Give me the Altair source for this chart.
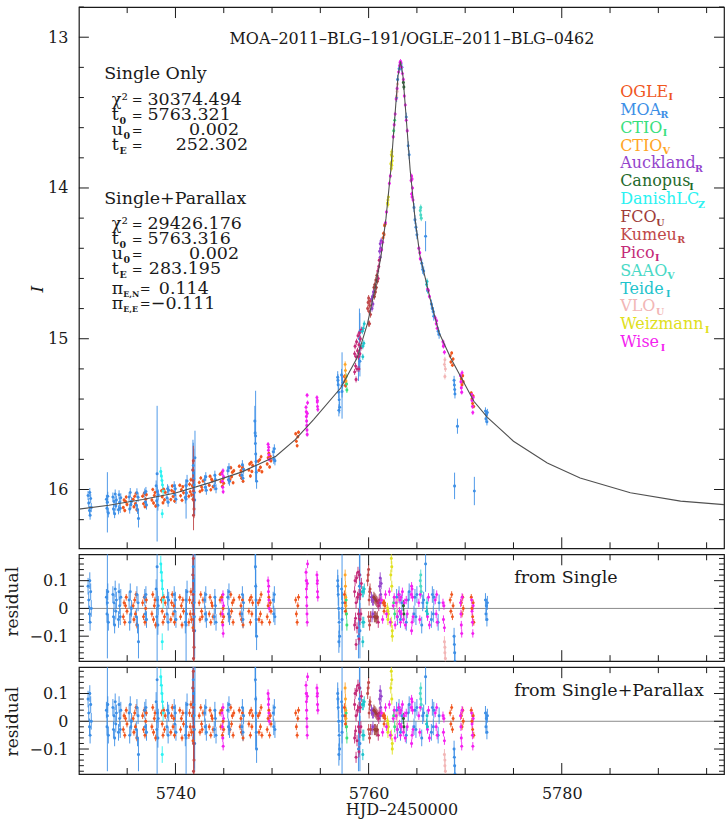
import altair as alt
import pandas as pd

FONT = "DejaVu Serif"
INK = "#1a1a1a"

SURVEYS = ["OGLE_I", "MOA_R", "CTIO_I", "CTIO_V", "Auckland_R", "Canopus_I", "DanishLC_Z",
           "FCO_U", "Kumeu_R", "Pico_I", "SAAO_V", "Teide_I", "VLO_U", "Weizmann_I", "Wise_I"]
COLORS = ["#f0561e", "#3d8fe6", "#38e07c", "#ffa526", "#9444cc", "#1f6a2c", "#2af2f2",
          "#9e3d3a", "#c0484a", "#c42a78", "#4ad9c6", "#1fc3cc", "#f2b6b6", "#e0e020", "#f41ff0"]
LEGEND_NAMES = ["OGLE", "MOA", "CTIO", "CTIO", "Auckland", "Canopus", "DanishLC",
                "FCO", "Kumeu", "Pico", "SAAO", "Teide", "VLO", "Weizmann", "Wise"]
LEGEND_SUBS = ["I", "R", "I", "V", "R", "I", "Z", "U", "R", "I", "V", "I", "U", "I", "I"]
DEFAULT_ERR = {"OGLE_I": .012, "MOA_R": .03, "Wise_I": .015}

# nightly groups on the wings: (night HJD', magnitude of that night, error, [(time offset, residual[, error]), ...])
OGLE_NIGHTS = [
    (5734.8, 16.09, .012, [(-.2, -.03), (-.12, .02), (-.05, -.05), (.03, .01), (.1, .04), (.18, -.01)]),
    (5735.8, 16.075, .012, [(-.18, .01), (-.1, -.04), (-.02, .03), (.05, -.02), (.12, .05), (.2, -.06)]),
    (5736.8, 16.064, .012, [(-.2, .02), (-.11, -.03), (-.03, .04), (.04, -.05), (.12, 0), (.19, .03)]),
    (5737.75, 16.05, .012, [(-.19, -.02), (-.1, .05), (-.02, -.04), (.06, .01), (.13, .03), (.2, -.06)]),
    (5738.75, 16.038, .012, [(-.2, .03), (-.12, -.01), (-.04, -.05), (.04, .04), (.11, -.03), (.19, .02)]),
    (5739.7, 16.027, .012, [(-.18, -.04), (-.1, .02), (-.03, .05), (.05, -.02), (.12, .01), (.2, -.05)]),
    (5740.65, 16.012, .012, [(-.2, .04), (-.12, -.03), (-.04, .01), (.03, -.06), (.11, .03), (.18, -.01)]),
    (5741.6, 15.995, .014, [(-.21, -.05), (-.14, .03), (-.07, -.02), (0, .06), (.07, -.04), (.14, .02), (.21, -.07)]),
    (5742.65, 15.973, .012, [(-.19, .02), (-.11, -.04), (-.03, .05), (.05, -.01), (.12, -.03), (.2, .03)]),
    (5743.7, 15.952, .012, [(-.2, -.02), (-.12, .04), (-.04, -.05), (.04, .02), (.11, .01), (.19, -.03)]),
    (5744.8, 15.928, .012, [(-.18, .03), (-.1, -.02), (-.02, .04), (.06, -.05), (.13, 0), (.2, -.03)]),
    (5745.85, 15.905, .012, [(-.2, -.03), (-.12, .05), (-.04, -.01), (.04, .02), (.12, -.05), (.19, .03)]),
    (5746.8, 15.885, .012, [(-.19, .04), (-.1, -.02), (-.02, .01), (.05, -.04), (.13, .03), (.2, -.06)]),
    (5747.8, 15.86, .012, [(-.2, -.01), (-.12, .03), (-.04, -.05), (.04, .04), (.11, -.02), (.19, .02)]),
    (5748.75, 15.832, .012, [(-.18, .02), (-.1, -.04), (-.02, .03), (.05, -.02), (.12, .05), (.2, -.05)]),
    (5749.7, 15.80, .012, [(-.2, -.03), (-.11, .01), (-.03, .04), (.05, -.05), (.12, .02), (.19, -.01)]),
    (5752.6, 15.66, .012, [(-.15, .03), (-.08, -.02), (0, -.05), (.07, .01), (.14, .04)]),
    (5757.55, 15.30, .015, [(-.05, .05), (0, .02), (.05, -.01)]),
    (5768.6, 15.145, .012, [(-.15, .03), (-.08, -.01), (0, .05), (.08, -.03), (.15, .01)]),
    (5769.7, 15.285, .012, [(-.1, .02), (-.03, -.02), (.04, .04), (.1, 0)]),
    (5770.75, 15.40, .012, [(-.12, .04), (-.05, 0), (.02, -.03), (.08, .02), (.14, -.05)]),
]
MOA_NIGHTS = [
    (5731.1, 16.12, .03, [(-.15, .08), (-.08, .03), (0, -.02), (.06, -.05), (.12, .06), (.18, 0), (.03, .1)]),
    (5732.95, 16.105, .03, [(-.1, .04), (-.04, -.02), (0, .02, .2), (.04, .06), (.1, -.05)]),
    (5733.7, 16.10, .03, [(-.18, .05), (-.12, -.03), (-.06, .02), (0, -.06), (.06, .07), (.12, -.01), (.18, .03)]),
    (5734.2, 16.095, .03, [(-.1, -.04), (-.04, .06), (.02, .01), (.08, -.03), (.14, .04)]),
    (5735.3, 16.08, .03, [(-.1, .03), (-.04, -.05), (.02, .06), (.08, -.02), (.14, 0)]),
    (5736.05, 16.072, .03, [(-.1, -.03), (-.04, .05), (.02, -.06), (.08, .02), (.12, -.12, .06)]),
    (5736.9, 16.063, .03, [(-.08, .04), (-.02, -.02), (.04, .05), (.1, -.04)]),
    (5738.1, 16.045, .035, [(-.1, .07), (-.04, -.03), (0, .15, .45), (.02, .03), (.08, -.06), (.12, .01)]),
    (5739.2, 16.035, .03, [(-.08, -.02), (-.02, .04), (.04, -.05), (.1, .03)]),
    (5739.95, 16.025, .03, [(-.08, .05), (-.02, -.01), (.04, .03), (.1, -.04)]),
    (5741.1, 16.003, .04, [(-.08, -.05), (-.02, .03), (0, -.06, .13), (.04, -.02), (.1, .06)]),
    (5741.9, 15.99, .06, [(-.06, .15, .15), (-.03, .1, .12), (0, .06, .2), (.03, .02, .1), (.06, -.03, .14),
                          (.09, -.08, .1), (-.09, .12, .2), (.12, .2, .18)]),
    (5743.1, 15.965, .03, [(-.08, .03), (-.02, -.02), (.04, .05), (.1, -.04)]),
    (5744.1, 15.945, .03, [(-.08, -.03), (-.02, .04), (.04, .01), (.1, -.05)]),
    (5745.5, 15.915, .03, [(-.08, .04), (-.02, -.02), (.04, .06), (.1, -.03)]),
    (5746.95, 15.885, .03, [(-.08, -.02), (-.02, .05), (.04, -.04), (.1, .02)]),
    (5748.3, 15.845, .06, [(-.08, .3, .1), (-.05, .22, .08), (-.02, .15, .08), (.01, .08, .06), (.04, .03, .06),
                           (.07, -.04, .05), (.1, -.1, .05), (0, .2, .3)]),
    (5750.2, 15.78, .03, [(-.08, .03), (-.02, -.02), (.04, .05), (.1, -.03)]),
    (5756.9, 15.355, .04, [(-.1, .1), (-.05, .05), (0, 0), (.05, -.05), (.1, -.1), (-.08, .08), (.02, -.12)]),
    (5757.25, 15.31, .04, [(-.05, .07), (0, -.04), (.05, .02), (0, 0, .22)]),
    (5768.9, 15.176, .03, [(-.05, -.10), (-.02, -.13), (.01, -.16), (.04, -.19), (0, -.8, .088)]),
    (5769.2, 15.21, .05, [(0, -.37)]),
    (5770.95, 15.42, .094, [(0, -.59)]),
    (5772.2, 15.51, .025, [(-.1, .03), (-.05, -.02), (0, .01), (.05, -.04), (.1, .02)]),
]
WISE_NIGHTS = [
    (5744.9, 15.925, .015, [(-.08, .03), (-.04, -.02), (0, -.06), (.04, -.09), (.08, .01), (.02, .05)]),
    (5749.65, 15.80, .015, [(-.06, .1), (-.02, .06), (.02, .03), (.06, 0), (0, .08)]),
    (5753.6, 15.585, .015, [(-.08, .13), (-.06, .1), (-.04, .07), (-.02, .04), (0, .01), (.02, -.02),
                            (.04, -.05), (.06, .09), (.08, .16), (.03, .21)]),
    (5754.7, 15.51, .015, [(-.05, .12), (-.02, .09), (.01, .06), (.04, .04), (0, .1)]),
    (5769.6, 15.265, .015, [(-.08, .02), (-.04, -.02), (0, -.06), (.04, -.09), (.08, .04)]),
    (5770.75, 15.40, .015, [(-.08, .03), (-.04, -.01), (0, -.05), (.04, -.09), (.08, .01)]),
]
KUMEU_NIGHTS = [
    (5741.85, 15.99, .06, [(-.05, .12), (-.02, .05), (.01, -.02), (.04, -.08), (.07, -.14), (0, .18, .1), (.02, -.18, .1)]),
]
DANISH_NIGHTS = [
    (5738.6, 16.04, .03, [(-.12, .16), (-.06, .13), (0, .1), (.06, .07), (.12, .03), (.03, -.12)]),
]
CTIOV_NIGHTS = [(5757.6, 15.29, .02, [(-.03, .12), (0, .08), (.03, .04), (.05, .01)])]
CTIOI_NIGHTS = [(5757.7, 15.28, .02, [(-.02, .03), (.02, -.02), (.05, -.06)])]

# points on the steep part of the peak: (HJD', magnitude, residual[, error])
OGLE_PEAK = [(5761.5, 14.33, .02), (5761.55, 14.30, .02), (5761.6, 14.31, -.01), (5761.65, 14.25, .02), (5761.7, 14.24, .01)]
MOA_PEAK = [
    (5758.95, 15.20, -.10, .08), (5759.05, 15.00, .08, .2), (5759.1, 14.95, .12, .12), (5759.1, 15.15, -.08, .1),
    (5762.9, 13.40, .04), (5763.0, 13.28, -.03), (5763.15, 13.21, .05), (5763.3, 13.19, -.04), (5763.45, 13.20, .02),
    (5763.9, 13.53, -.05), (5764.1, 13.72, .03), (5764.2, 13.78, .06), (5764.7, 14.13, -.02), (5764.8, 14.21, .04),
    (5764.9, 14.26, -.03), (5765.0, 14.31, .05), (5765.5, 14.50, -.06), (5765.6, 14.54, .02), (5765.7, 14.55, .03),
    (5765.9, 14.32, .16, .1), (5766.5, 14.77, -.04), (5766.6, 14.80, .05), (5766.7, 14.82, -.02), (5766.75, 14.85, .04),
    (5767.2, 14.95, -.05), (5767.3, 14.97, .02),
]
WISE_PEAK = [
    (5761.35, 14.41, .03), (5761.45, 14.36, -.04), (5761.75, 14.23, .05), (5761.85, 14.16, -.02),
    (5762.15, 13.97, .06), (5762.25, 13.92, -.05), (5762.55, 13.66, .01), (5762.65, 13.58, .04),
    (5762.75, 13.51, -.06), (5762.85, 13.41, .02), (5762.95, 13.34, -.03), (5763.1, 13.23, .05),
    (5763.2, 13.19, -.01), (5763.25, 13.17, .03), (5763.3, 13.16, -.05), (5763.35, 13.17, .04),
    (5763.4, 13.20, -.02), (5763.5, 13.24, .06), (5763.6, 13.28, -.04), (5763.7, 13.39, .02),
    (5763.8, 13.45, -.06), (5763.9, 13.55, .03), (5764.0, 13.62, -.02), (5764.4, 13.95, .05),
    (5764.45, 13.92, .08), (5764.5, 13.94, .07), (5764.5, 14.06, -.05), (5764.55, 14.00, .04),
    (5764.6, 14.08, -.03), (5764.45, 14.04, -.08), (5765.2, 14.40, .02), (5765.3, 14.43, -.04),
    (5765.35, 14.47, .05), (5766.1, 14.67, -.03), (5766.2, 14.68, .04), (5766.3, 14.72, -.06),
    (5766.9, 14.86, .03), (5767.0, 14.90, -.02), (5767.05, 14.88, .05), (5767.1, 14.93, -.05),
    (5767.7, 15.02, .02), (5767.75, 15.05, -.04), (5767.8, 15.04, .01), (5767.85, 15.09, -.07),
]
PICO_PEAK = [
    (5758.55, 15.10, .06), (5758.55, 15.22, -.06), (5758.6, 15.05, .10), (5758.65, 15.18, -.035), (5758.7, 15.12, .02),
    (5758.7, 15.27, -.13), (5758.75, 15.02, .11), (5758.8, 15.20, -.07), (5758.85, 15.08, .04), (5758.9, 14.98, .13),
    (5758.95, 15.12, -.02), (5759.0, 15.04, .05), (5759.0, 15.20, -.11), (5759.05, 14.96, .12), (5759.1, 15.10, -.04),
    (5759.15, 15.00, .05), (5759.2, 15.06, -.02), (5759.25, 14.94, .09),
    (5760.95, 14.55, .02), (5761.0, 14.60, -.05), (5761.05, 14.52, .01), (5761.1, 14.48, .03),
]
KUMEU_PEAK = [(5759.9, 14.80, .10), (5759.95, 14.76, .12), (5760.0, 14.90, -.03), (5760.0, 14.73, .14), (5760.05, 14.82, .03),
              (5760.1, 14.78, .06), (5760.1, 14.90, -.06), (5760.15, 14.75, .07), (5760.2, 14.84, -.03)]
AUCKLAND_PEAK = [(5760.3, 14.74, .04), (5760.35, 14.80, -.03), (5760.4, 14.72, .03), (5760.45, 14.77, -.02), (5760.5, 14.69, .03),
                 (5761.15, 14.42, .08), (5761.2, 14.37, .11), (5761.25, 14.40, .05), (5761.3, 14.35, .09), (5761.2, 14.46, .02)]
FCO_PEAK = [(5760.55, 14.66, .04), (5760.6, 14.72, -.03), (5760.65, 14.64, .035), (5760.7, 14.69, -.03),
            (5760.75, 14.61, .03), (5760.8, 14.66, -.035), (5760.85, 14.58, .025), (5760.9, 14.62, -.03)]
TEIDE_PEAK = [(5759.35, 14.95, .06), (5759.4, 15.05, -.05), (5759.45, 14.93, .06), (5759.5, 15.03, -.05), (5759.55, 14.90, .07),
              (5759.4, 15.12, -.12), (5766.0, 14.64, -.01), (5766.05, 14.62, .02), (5766.1, 14.68, -.02)]
WEIZMANN_PEAK = [(5761.95, 14.10, 0), (5762.0, 14.08, -.01), (5762.05, 14.06, -.02), (5762.0, 14.11, -.04), (5762.3, 13.84, .12),
                 (5762.35, 13.78, .18), (5762.35, 13.87, -.05), (5762.4, 13.85, .08), (5762.4, 13.76, .15),
                 (5762.45, 13.82, -.08), (5762.45, 13.79, -.1)]
CTIOI_PEAK = [(5762.6, 13.62, .02), (5762.7, 13.55, -.02)]
VLO_PEAK = [(5762.9, 13.39, .02), (5762.95, 13.36, -.01), (5763.0, 13.31, .03), (5767.85, 15.17, -.12),
            (5767.9, 15.14, -.14), (5767.9, 15.25, -.16), (5767.95, 15.20, -.18)]
CANOPUS_PEAK = [(5763.6, 13.30, .01), (5763.65, 13.33, -.02)]
SAAO_PEAK = [(5765.35, 14.15, .1), (5765.4, 14.18, .08), (5765.45, 14.20, .06), (5765.4, 14.13, .12)]

# model light curve
CURVE_T = [5730.0, 5733.1, 5736.6, 5740.0, 5743.5, 5746.9, 5750.4, 5752.4, 5754.3, 5757.1, 5758.8, 5759.9,
           5760.7, 5761.3, 5761.8, 5762.3, 5762.8, 5763.05, 5763.3, 5763.55, 5763.8, 5764.3, 5764.8, 5765.3,
           5766.4, 5767.3, 5768.5, 5770.9, 5772.3, 5775.0, 5778.5, 5781.9, 5787.1, 5792.3, 5796.8]
CURVE_MAG = [16.130, 16.104, 16.066, 16.023, 15.956, 15.883, 15.779, 15.669, 15.536, 15.327, 15.128, 14.895,
             14.660, 14.444, 14.200, 13.879, 13.458, 13.254, 13.160, 13.254, 13.458, 13.879, 14.200, 14.444,
             14.742, 14.960, 15.128, 15.415, 15.521, 15.680, 15.824, 15.923, 16.022, 16.077, 16.100]

# axis ticks
X_DOMAIN = [5730, 5796.8]
X_MAJOR = [5740, 5760, 5780]
X_MINOR = [5735, 5745, 5750, 5755, 5765, 5770, 5775, 5785, 5790, 5795]
MAIN_DOMAIN = [12.8, 16.39]
MAIN_MAJOR = [13, 14, 15, 16]
MAIN_MINOR = [12.8, 13.2, 13.4, 13.6, 13.8, 14.2, 14.4, 14.6, 14.8, 15.2, 15.4, 15.6, 15.8, 16.2]
RES_DOMAIN = [-0.19, 0.195]
RES_MAJOR = [-0.1, 0, 0.1]
RES_MINOR = [-0.18, -0.16, -0.14, -0.12, -0.08, -0.06, -0.04, -0.02, 0.02, 0.04, 0.06, 0.08, 0.12, 0.14, 0.16, 0.18]

TITLE = "MOA–2011–BLG–191/OGLE–2011–BLG–0462"
FIT_SINGLE = [("χ²", "", "30374.494"), ("t", "0", "5763.321"), ("u", "0", "0.002"), ("t", "E", "252.302")]
FIT_PARALLAX = [("χ²", "", "29426.176"), ("t", "0", "5763.316"), ("u", "0", "0.002"), ("t", "E", "283.195"),
                ("π", "E,N", "0.114"), ("π", "E,E", "−0.111")]

# ---------------------------------------------------------------- build table
rows = []


def add_nights(survey, nights):
    for t0, base, err, pts in nights:
        for p in pts:
            e = p[2] if len(p) > 2 else err
            rows.append(dict(survey=survey, t=round(t0 + p[0], 3), mag=round(base - p[1], 4), res=p[1], err=e))


def add_peak(survey, pts):
    for p in pts:
        e = p[3] if len(p) > 3 else DEFAULT_ERR.get(survey, .02)
        rows.append(dict(survey=survey, t=p[0], mag=p[1], res=p[2], err=e))


add_nights("OGLE_I", OGLE_NIGHTS)
add_peak("OGLE_I", OGLE_PEAK)
add_nights("MOA_R", MOA_NIGHTS)
add_peak("MOA_R", MOA_PEAK)
add_nights("CTIO_I", CTIOI_NIGHTS)
add_peak("CTIO_I", CTIOI_PEAK)
add_nights("CTIO_V", CTIOV_NIGHTS)
add_peak("Auckland_R", AUCKLAND_PEAK)
add_peak("Canopus_I", CANOPUS_PEAK)
add_nights("DanishLC_Z", DANISH_NIGHTS)
add_peak("FCO_U", FCO_PEAK)
add_nights("Kumeu_R", KUMEU_NIGHTS)
add_peak("Kumeu_R", KUMEU_PEAK)
add_peak("Pico_I", PICO_PEAK)
add_peak("SAAO_V", SAAO_PEAK)
add_peak("Teide_I", TEIDE_PEAK)
add_peak("VLO_U", VLO_PEAK)
add_peak("Weizmann_I", WEIZMANN_PEAK)
add_nights("Wise_I", WISE_NIGHTS)
add_peak("Wise_I", WISE_PEAK)

df = pd.DataFrame(rows)
df["lo"] = df["mag"] - df["err"]
df["hi"] = df["mag"] + df["err"]
df["rlo"] = df["res"] - df["err"]
df["rhi"] = df["res"] + df["err"]
curve_df = pd.DataFrame({"t": CURVE_T, "m": CURVE_MAG})

# ---------------------------------------------------------------- helpers
W = 646
H_MAIN = 542
H_RES = 107
LEFT_EXTENT = 77.5
XS = alt.Scale(domain=X_DOMAIN, nice=False, zero=False)
YM = alt.Scale(domain=MAIN_DOMAIN, reverse=True, nice=False, zero=False)
YR = alt.Scale(domain=RES_DOMAIN, nice=False, zero=False)
COLOR = alt.Color("survey:N", scale=alt.Scale(domain=SURVEYS, range=COLORS), legend=None)

CW = {'A': .722, 'C': .72, 'D': .802, 'E': .729, 'F': .693, 'G': .8, 'I': .4, 'K': .76, 'L': .68, 'M': .963,
      'O': .82, 'P': .673, 'S': .685, 'T': .71, 'V': .722, 'W': 1.103, 'a': .596, 'c': .56, 'd': .64,
      'e': .592, 'h': .644, 'i': .32, 'k': .606, 'l': .32, 'm': .948, 'n': .644, 'o': .602, 'p': .64,
      's': .513, 'u': .644, 'z': .525, 't': .402, 'π': .62}


def text_width(s, size):
    return 0.97 * sum(CW.get(c, .62) for c in s) * size


def txt(s, x, y, size, color=INK, align="left", weight="normal", style="normal"):
    return alt.Chart(pd.DataFrame({"s": [s]})).mark_text(
        align=align, baseline="alphabetic", font=FONT, fontSize=size, color=color,
        fontWeight=weight, fontStyle=style
    ).encode(x=alt.value(x), y=alt.value(y), text="s:N")


def spacer():
    # white hairline at the far left so that every panel has the same left extent
    return alt.Chart(pd.DataFrame({"a": [0]})).mark_rule(color="white", strokeWidth=1).encode(
        x=alt.value(-LEFT_EXTENT), x2=alt.value(-LEFT_EXTENT), y=alt.value(0), y2=alt.value(1))


def tick_layers(ys, h, ymaj, ymin, xenc_for, yenc_for):
    out = []
    for vals, ln in ((ymaj, 10), (ymin, 5)):
        d = pd.DataFrame({"v": vals})
        out.append(alt.Chart(d).mark_rule(color=INK, strokeWidth=1).encode(
            y=yenc_for("v"), x=alt.value(0), x2=alt.value(ln)))
        out.append(alt.Chart(d).mark_rule(color=INK, strokeWidth=1).encode(
            y=yenc_for("v"), x=alt.value(W - ln), x2=alt.value(W)))
    for vals, ln in ((X_MAJOR, 11), (X_MINOR, 6)):
        d = pd.DataFrame({"v": vals})
        out.append(alt.Chart(d).mark_rule(color=INK, strokeWidth=1).encode(
            x=xenc_for("v"), y=alt.value(0), y2=alt.value(ln)))
        out.append(alt.Chart(d).mark_rule(color=INK, strokeWidth=1).encode(
            x=xenc_for("v"), y=alt.value(h - ln), y2=alt.value(h)))
    return out


# ---------------------------------------------------------------- main panel
MAIN_YAXIS = alt.Axis(values=MAIN_MAJOR, format="d", ticks=False, tickSize=0, domain=False, grid=False,
                      labelFont=FONT, labelFontSize=16, labelColor=INK, labelPadding=11,
                      titleFont=FONT, titleFontSize=17, titleFontStyle="italic", titleFontWeight="normal",
                      titleColor=INK, titleX=-41, titleY=282, titleAngle=270, titleBaseline="middle",
                      titleAlign="center")


def main_y(field):
    return alt.Y(f"{field}:Q", scale=YM, axis=MAIN_YAXIS, title="I")


def main_x(field):
    return alt.X(f"{field}:Q", scale=XS, axis=None)


main_layers = [
    spacer(),
    alt.Chart(df).mark_rule(strokeWidth=1, opacity=0.9, clip=True).encode(
        x=main_x("t"), y=main_y("lo"), y2="hi:Q", color=COLOR),
    alt.Chart(df).mark_circle(size=9, opacity=1, clip=True).encode(
        x=main_x("t"), y=main_y("mag"), color=COLOR),
    alt.Chart(curve_df).mark_line(color="#505050", strokeWidth=1.1, clip=True).encode(
        x=main_x("t"), y=main_y("m")),
]
main_layers += tick_layers(YM, H_MAIN, MAIN_MAJOR, MAIN_MINOR, main_x, main_y)

# title and fit parameters
main_layers.append(txt(TITLE, 333.5, 36.7, 16, align="center"))
STAT = 17.5
main_layers.append(txt("Single Only", 25.3, 72.5, STAT))
main_layers.append(txt("Single+Parallax", 25.3, 197, STAT))
block1_y = [98, 113.5, 128.5, 143.5]
block2_y = [222.5, 237.5, 252.5, 267.5, 287, 302]
block1_vx = [68.7, 68.7, 110.3, 97]
block2_vx = [68.7, 68.7, 110.3, 70, 80, 72]
for fits, ys_, vxs in ((FIT_SINGLE, block1_y, block1_vx), (FIT_PARALLAX, block2_y, block2_vx)):
    for (sym, sub, val), yy, vx in zip(fits, ys_, vxs):
        sym_size = 16 if sym == "χ²" else STAT
        main_layers.append(txt(sym, 33, yy, sym_size))
        if sub:
            main_layers.append(txt(sub, 33 + text_width(sym, STAT) + 0.8, yy + 3.5,
                                   9.5 if len(sub) == 1 else 8, weight="bold"))
        eqx = 66.5 if sym == "π" else 58.5
        main_layers.append(txt("=", eqx, yy - 0.5, 13, align="center"))
        main_layers.append(txt(val, vx, yy, STAT))

# legend of observatories
LEG_SIZE = 16
for i, (name, sub, col) in enumerate(zip(LEGEND_NAMES, LEGEND_SUBS, COLORS)):
    yy = 90 + 17.9 * i
    main_layers.append(txt(name, 542, yy, LEG_SIZE, color=col))
    main_layers.append(txt(sub, 542 + text_width(name, LEG_SIZE) + 1.5, yy + 3.5, 9.5, color=col, weight="bold"))

main = alt.layer(*main_layers).properties(width=W, height=H_MAIN)


# ---------------------------------------------------------------- residual panels
def resid_panel(label, title_y, bottom):
    yaxis = alt.Axis(values=RES_MAJOR, labelExpr="datum.value == 0 ? '0' : format(datum.value, '.1f')",
                     ticks=False, tickSize=0, domain=False, grid=False, labelFont=FONT, labelFontSize=16,
                     labelColor=INK, labelPadding=11, titleFont=FONT, titleFontSize=17, titleFontWeight="normal",
                     titleColor=INK, titleX=-66, titleY=title_y, titleAngle=270, titleBaseline="middle",
                     titleAlign="center")
    if bottom:
        xaxis = alt.Axis(values=X_MAJOR, format="d", ticks=False, tickSize=0, domain=False, grid=False,
                         labelFont=FONT, labelFontSize=16, labelColor=INK, labelPadding=12,
                         titleFont=FONT, titleFontSize=16, titleFontWeight="normal", titleColor=INK,
                         titlePadding=0)
        xtitle = "HJD–2450000"
    else:
        xaxis = None
        xtitle = ""

    def rx(field):
        if xaxis is None:
            return alt.X(f"{field}:Q", scale=XS, axis=None)
        return alt.X(f"{field}:Q", scale=XS, axis=xaxis, title=xtitle)

    def ry(field):
        return alt.Y(f"{field}:Q", scale=YR, axis=yaxis, title="residual")

    layers = [
        spacer(),
        alt.Chart(pd.DataFrame({"v": [0]})).mark_rule(color="#8c8c8c", strokeWidth=1).encode(y=ry("v")),
        alt.Chart(df).mark_rule(strokeWidth=1, opacity=0.9, clip=True).encode(
            x=rx("t"), y=ry("rlo"), y2="rhi:Q", color=COLOR),
        alt.Chart(df).mark_circle(size=9, opacity=1, clip=True).encode(
            x=rx("t"), y=ry("res"), color=COLOR),
    ]
    layers += tick_layers(YR, H_RES, RES_MAJOR, RES_MINOR, rx, ry)
    layers.append(txt(label, 436, 29, 17.5))
    return alt.layer(*layers).properties(width=W, height=H_RES)


res1 = resid_panel("from Single", 47, False)
res2 = resid_panel("from Single+Parallax", 54, True)

chart = alt.vconcat(main, res1, res2, spacing=2).properties(
    padding={"left": 0, "top": 4.5, "right": 0, "bottom": 4}
).configure(font=FONT).configure_view(stroke=INK, strokeWidth=1.2)

chart.save("out.html", embed_options={"renderer": "svg", "actions": False})
